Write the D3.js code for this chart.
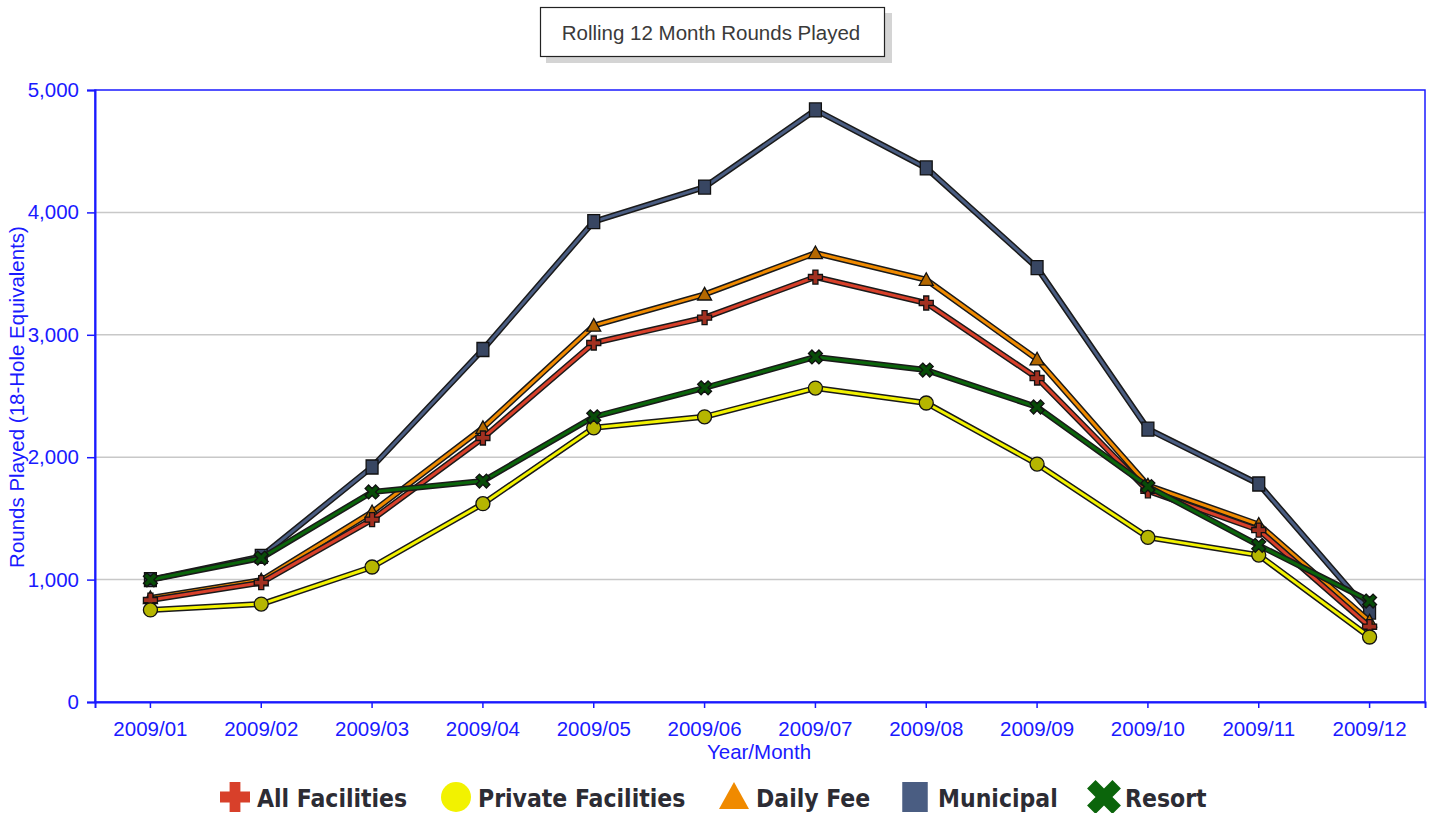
<!DOCTYPE html>
<html>
<head>
<meta charset="utf-8">
<script src="https://cdn.jsdelivr.net/npm/d3@7"></script>
<style>
  body { margin: 0; background: #fff; }
  svg text { font-family: "Liberation Sans", Arial, sans-serif; }
</style>
</head>
<body>
<svg id="chart" width="1433" height="813"></svg>
<script>
// chart data
const months = ["2009/01", "2009/02", "2009/03", "2009/04", "2009/05", "2009/06",
                "2009/07", "2009/08", "2009/09", "2009/10", "2009/11", "2009/12"];
const allFacilities = [833, 975, 1490, 2157, 2933, 3140, 3472, 3260, 2647, 1725, 1405, 615];
const privateFacilities = [752, 800, 1103, 1620, 2240, 2330, 2565, 2443, 1944, 1345, 1200, 531];
const dailyFee = [850, 995, 1552, 2240, 3075, 3330, 3668, 3450, 2800, 1770, 1450, 660];
const municipal = [1000, 1190, 1920, 2880, 3925, 4207, 4837, 4363, 3548, 2230, 1781, 735];
const resort = [998, 1176, 1716, 1805, 2330, 2567, 2819, 2712, 2410, 1760, 1280, 825];
const yTicks = [0, 1000, 2000, 3000, 4000, 5000];

const seriesNames = ["All Facilities", "Private Facilities", "Daily Fee", "Municipal", "Resort"];
const seriesColors = ["#d8402a", "#f2f200", "#f08a00", "#4a5d82", "#0b650b"];

const series = [
  { name: seriesNames[3], values: municipal, color: seriesColors[3], shape: "square" },
  { name: seriesNames[2], values: dailyFee, color: seriesColors[2], shape: "triangle" },
  { name: seriesNames[0], values: allFacilities, color: seriesColors[0], shape: "cross" },
  { name: seriesNames[1], values: privateFacilities, color: seriesColors[1], shape: "circle" },
  { name: seriesNames[4], values: resort, color: seriesColors[4], shape: "x" }
];

const svg = d3.select("#chart");
const blue = "#1a1aff";
const fs = 20.5;
const plotLeft = 95, plotRight = 1425, plotTop = 90, plotBottom = 702;

const x = d3.scaleBand().domain(months).range([plotLeft, plotRight]);
const y = d3.scaleLinear().domain([0, 5000]).range([plotBottom, plotTop]);

// title box with shadow
svg.append("rect").attr("x", 546).attr("y", 13).attr("width", 346).attr("height", 50).attr("fill", "#d4d4d4");
svg.append("rect").attr("x", 540.5).attr("y", 7.5).attr("width", 344).attr("height", 49)
  .attr("fill", "#fff").attr("stroke", "#222").attr("stroke-width", 1.2);
svg.append("text").attr("x", 711).attr("y", 40).attr("text-anchor", "middle")
  .attr("font-size", fs).attr("fill", "#3a3a3a").text("Rolling 12 Month Rounds Played");

// gridlines
svg.append("g").selectAll("line").data(yTicks.filter(d => d > 0 && d < 5000)).join("line")
  .attr("x1", plotLeft).attr("x2", plotRight).attr("y1", d => y(d)).attr("y2", d => y(d))
  .attr("stroke", "#c8c8c8").attr("stroke-width", 1.5);

// frame
svg.append("rect").attr("x", plotLeft).attr("y", plotTop).attr("width", plotRight - plotLeft).attr("height", plotBottom - plotTop)
  .attr("fill", "none").attr("stroke", blue).attr("stroke-width", 1.5);

// axes
const yAxis = svg.append("g").attr("transform", `translate(${plotLeft},0)`)
  .call(d3.axisLeft(y).tickValues(yTicks).tickFormat(d3.format(",")).tickSize(8).tickPadding(8));
const xAxis = svg.append("g").attr("transform", `translate(0,${plotBottom})`)
  .call(d3.axisBottom(x).tickSize(6).tickPadding(13));
[xAxis, yAxis].forEach(a => {
  a.select(".domain").attr("stroke", blue).attr("stroke-width", 2);
  a.selectAll(".tick line").attr("stroke", blue).attr("stroke-width", 1.5);
  a.selectAll(".tick text").attr("fill", blue).attr("font-size", fs);
});

svg.append("text").attr("x", 759).attr("y", 759).attr("text-anchor", "middle")
  .attr("font-size", fs).attr("fill", blue).text("Year/Month");
svg.append("text").attr("transform", "translate(24,397) rotate(-90)").attr("text-anchor", "middle")
  .attr("font-size", fs).attr("fill", blue).text("Rounds Played (18-Hole Equivalents)");

// marker shapes
function shapePath(shape, s) {
  const h = s / 2;
  if (shape === "square") return `M${-h * 0.85},${-h}H${h * 0.85}V${h}H${-h * 0.85}Z`;
  if (shape === "triangle") return `M0,${-h}L${h},${h * 0.8}L${-h},${h * 0.8}Z`;
  if (shape === "circle") return d3.symbol(d3.symbolCircle, Math.PI * h * h)();
  if (shape === "cross") {
    const t = h * 0.36;
    return `M${-t},${-h}H${t}V${-t}H${h}V${t}H${t}V${h}H${-t}V${t}H${-h}V${-t}H${-t}Z`;
  }
  // x shape = cross rotated by the caller
  return d3.symbol(d3.symbolCross, s * s * 0.62)();
}

const line = d3.line().x((d, i) => x(months[i]) + x.bandwidth() / 2).y(d => y(d));

const plot = svg.append("g");
series.forEach(s => {
  const g = plot.append("g");
  g.append("path").attr("d", line(s.values)).attr("fill", "none")
    .attr("stroke", "#1a1a1a").attr("stroke-width", 6).attr("stroke-linejoin", "round");
  g.append("path").attr("d", line(s.values)).attr("fill", "none")
    .attr("stroke", s.color).attr("stroke-width", 3).attr("stroke-linejoin", "round");
  g.selectAll("path.m").data(s.values).join("path").attr("class", "m")
    .attr("d", shapePath(s.shape, 14))
    .attr("transform", (d, i) => `translate(${x(months[i]) + x.bandwidth() / 2},${y(d)})` + (s.shape === "x" ? " rotate(45)" : ""))
    .attr("fill", d3.color(s.color).darker(0.8)).attr("stroke", "#111").attr("stroke-width", 1.3);
});

// legend
const legendOrder = [
  { name: seriesNames[0], color: seriesColors[0], shape: "cross", mx: 235, tx: 257 },
  { name: seriesNames[1], color: seriesColors[1], shape: "circle", mx: 456, tx: 478 },
  { name: seriesNames[2], color: seriesColors[2], shape: "triangle", mx: 734, tx: 756 },
  { name: seriesNames[3], color: seriesColors[3], shape: "square", mx: 915, tx: 938 },
  { name: seriesNames[4], color: seriesColors[4], shape: "x", mx: 1104, tx: 1125 }
];
const legend = svg.append("g");
legendOrder.forEach(l => {
  legend.append("path").attr("d", shapePath(l.shape, l.shape === "x" ? 34 : 30))
    .attr("transform", `translate(${l.mx},797)` + (l.shape === "x" ? " rotate(45)" : ""))
    .attr("fill", l.color);
  legend.append("text").attr("x", l.tx).attr("y", 807)
    .style("font-family", "'DejaVu Sans Condensed', 'DejaVu Sans', sans-serif")
    .style("font-stretch", "condensed")
    .attr("font-weight", "bold").attr("font-size", 24.5).attr("fill", "#2c2c34").text(l.name);
});
</script>
</body>
</html>
